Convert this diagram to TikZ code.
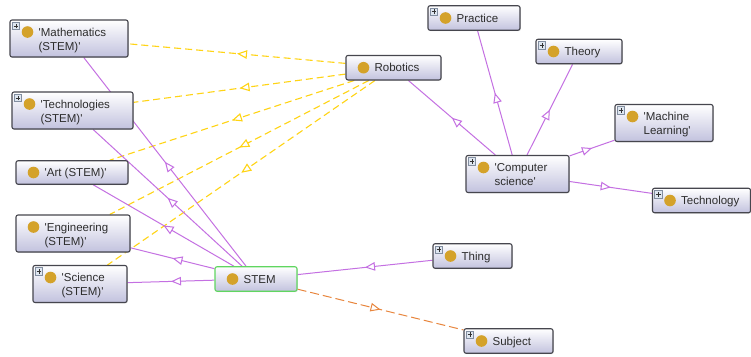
\documentclass[tikz,border=0pt]{standalone}
\usepackage{fontspec}
\setmainfont{Liberation Sans}
\usetikzlibrary{arrows.meta,decorations.markings,shadows,backgrounds}

\definecolor{boxline}{RGB}{70,70,78}
\definecolor{boxfill}{RGB}{194,194,222}
\definecolor{stemline}{RGB}{96,214,96}
\definecolor{dotcol}{RGB}{212,162,42}
\definecolor{textcol}{RGB}{45,45,45}
\definecolor{isacol}{RGB}{196,112,226}
\definecolor{robocol}{RGB}{255,212,20}
\definecolor{subjcol}{RGB}{232,134,62}
\definecolor{plusline}{RGB}{130,142,160}
\definecolor{plusfill}{RGB}{222,230,240}

\newcommand\sq{\textquotesingle}
\newcommand\twoline[2]{\begin{tabular}[t]{@{}l@{}}#1\\#2\end{tabular}}

\tikzset{
  cls/.style={draw=boxline, line width=1.1pt, rounded corners=2pt,
    top color=white, bottom color=boxfill, minimum height=24.5pt, inner sep=0pt,
    drop shadow={shadow xshift=.8pt, shadow yshift=-.8pt, opacity=.25}},
  dot/.style={path picture={\fill[dotcol] ([shift={(17.5,#1)}]path picture bounding box.west) circle (5.8pt);}},
  dot/.default=0,
  expand/.style={append after command={([shift={(2.5pt,-2.5pt)}]\tikzlastnode.north west) node[plusbox] {}}},
  plusbox/.style={anchor=north west, draw=plusline, fill=plusfill, line width=.6pt,
    minimum size=7.5pt, inner sep=0pt,
    path picture={\draw[black!80, line width=.7pt] (path picture bounding box.center)
      +(-2.3pt,0) -- +(2.3pt,0) +(0,-2.3pt) -- +(0,2.3pt);}},
  txt/.style={anchor=base west, inner sep=0pt, text=textcol, font=\fontsize{11.5}{14}\selectfont},
  midtip/.style={postaction={decorate}, decoration={markings,
    mark=at position .5 with {\arrow{Triangle[length=10pt,width=8.5pt,fill=white]}}}},
  isa/.style={draw=isacol, line width=1pt, midtip},
  robolink/.style={draw=robocol, line width=1.1pt, dash pattern=on 7pt off 4pt, midtip},
  subjlink/.style={draw=subjcol, line width=1pt, dash pattern=on 9pt off 4pt, midtip}
}

\begin{document}
\begin{tikzpicture}[x=1pt,y=1pt]
\useasboundingbox (0,0) rectangle (751,-356);

% classes, left column
\node[cls, dot=6.5, expand, minimum width=118pt, minimum height=37pt] (math) at (69,-38.5) {};
\node[txt] (mathtxt) at ([shift={(29,2.5)}]math.west) {\twoline{\sq Mathematics}{(STEM)\sq}};
\node[cls, dot=6.5, expand, minimum width=121pt, minimum height=37pt] (tech) at (72.5,-110.5) {};
\node[txt] (techtxt) at ([shift={(29,2.5)}]tech.west) {\twoline{\sq Technologies}{(STEM)\sq}};
\node[cls, dot, minimum width=112pt, minimum height=23.5pt] (art) at (72,-172.5) {};
\node[txt] (arttxt) at ([shift={(29,-4)}]art.west) {\sq Art (STEM)\sq};
\node[cls, dot=6.5, minimum width=114pt, minimum height=37pt] (eng) at (73,-233.5) {};
\node[txt] (engtxt) at ([shift={(29,2.5)}]eng.west) {\twoline{\sq Engineering}{(STEM)\sq}};
\node[cls, dot=6.5, expand, minimum width=94pt, minimum height=37pt] (sci) at (80,-284) {};
\node[txt] (scitxt) at ([shift={(29,2.5)}]sci.west) {\twoline{\sq Science}{(STEM)\sq}};

% STEM and its parents
\node[cls, dot, draw=stemline, minimum width=82pt] (stem) at (256,-279) {};
\node[txt] (stemtxt) at ([shift={(29,-4)}]stem.west) {STEM};
\node[cls, dot, expand, minimum width=79pt] (thing) at (472.5,-256) {};
\node[txt] (thingtxt) at ([shift={(29,-4)}]thing.west) {Thing};
\node[cls, dot, expand, minimum width=89pt] (subj) at (508.5,-341) {};
\node[txt] (subjtxt) at ([shift={(29,-4)}]subj.west) {Subject};

% computer science branch
\node[cls, dot, minimum width=95pt] (robo) at (393.5,-67.7) {};
\node[txt] (robotxt) at ([shift={(29,-4)}]robo.west) {Robotics};
\node[cls, dot=6.5, expand, minimum width=103pt, minimum height=37pt] (cs) at (517.5,-174) {};
\node[txt] (cstxt) at ([shift={(29,2.5)}]cs.west) {\twoline{\sq Computer}{science\sq}};
\node[cls, dot, expand, minimum width=92pt] (prac) at (474,-18) {};
\node[txt] (practxt) at ([shift={(29,-4)}]prac.west) {Practice};
\node[cls, dot, expand, minimum width=86pt] (theo) at (579,-51.5) {};
\node[txt] (theotxt) at ([shift={(29,-4)}]theo.west) {Theory};
\node[cls, dot=6.5, expand, minimum width=98pt, minimum height=37pt] (ml) at (664,-123) {};
\node[txt] (mltxt) at ([shift={(29,2.5)}]ml.west) {\twoline{\sq Machine}{Learning\sq}};
\node[cls, dot, expand, minimum width=98pt] (techno) at (701.5,-200.5) {};
\node[txt] (technotxt) at ([shift={(29,-4)}]techno.west) {Technology};

% links go under the boxes
\begin{scope}[on background layer]
\fill[white] (0,0) rectangle (751,-356);
\draw[robolink] (robo) -- (math);
\draw[robolink] (robo) -- (tech);
\draw[robolink] (robo) -- (art);
\draw[robolink] (robo) -- (eng);
\draw[robolink] (robo) -- (sci);
\draw[isa] (stem) -- (math);
\draw[isa] (stem) -- (tech);
\draw[isa] (stem) -- (art);
\draw[isa] (stem) -- (eng);
\draw[isa] (stem) -- (sci);
\draw[isa] (thing) -- (stem);
\draw[subjlink] (stem) -- (subj);
\draw[isa] (cs) -- (robo);
\draw[isa] (cs) -- (prac);
\draw[isa] (cs) -- (theo);
\draw[isa] (cs) -- (ml);
\draw[isa] (cs) -- (techno);
\end{scope}
\end{tikzpicture}
\end{document}
